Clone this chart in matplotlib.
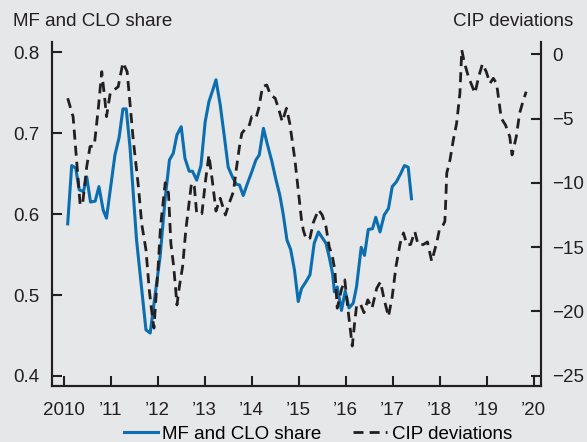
#!/usr/bin/env python3
"""MF and CLO share vs. CIP deviations, 2010-2020 (dual axis line chart)."""

import matplotlib

matplotlib.use("Agg")
import matplotlib.pyplot as plt

# MF and CLO share (left axis), decimal year / share
share_years = [
    2010.085, 2010.17, 2010.255, 2010.33, 2010.42, 2010.49, 2010.57, 2010.67,
    2010.75, 2010.84, 2010.91, 2011.00, 2011.09, 2011.18, 2011.26, 2011.33,
    2011.41, 2011.55, 2011.75, 2011.84, 2011.94, 2012.05, 2012.16, 2012.25,
    2012.33, 2012.41, 2012.50, 2012.58, 2012.67, 2012.74, 2012.83, 2012.92,
    2013.01, 2013.09, 2013.17, 2013.24, 2013.33, 2013.42, 2013.50, 2013.59,
    2013.67, 2013.74, 2013.82, 2013.91, 2014.00, 2014.09, 2014.16, 2014.25,
    2014.33, 2014.43, 2014.51, 2014.60, 2014.67, 2014.75, 2014.83, 2014.91,
    2014.99, 2015.06, 2015.16, 2015.24, 2015.33, 2015.42, 2015.50, 2015.58,
    2015.65, 2015.72, 2015.76, 2015.82, 2015.91, 2015.99, 2016.07, 2016.16,
    2016.23, 2016.33, 2016.40, 2016.48, 2016.57, 2016.64, 2016.73, 2016.82,
    2016.91, 2016.99, 2017.08, 2017.17, 2017.25, 2017.33, 2017.40,
]
share_values = [
    0.588, 0.660, 0.657, 0.630, 0.628, 0.646, 0.615, 0.616,
    0.634, 0.605, 0.595, 0.634, 0.673, 0.695, 0.730, 0.730,
    0.683, 0.568, 0.457, 0.453, 0.498, 0.547, 0.620, 0.667,
    0.675, 0.698, 0.708, 0.669, 0.653, 0.653, 0.642, 0.660,
    0.714, 0.739, 0.753, 0.766, 0.735, 0.695, 0.658, 0.646,
    0.637, 0.636, 0.623, 0.638, 0.652, 0.667, 0.673, 0.706,
    0.687, 0.665, 0.644, 0.623, 0.600, 0.568, 0.556, 0.531,
    0.492, 0.508, 0.517, 0.525, 0.564, 0.578, 0.571, 0.564,
    0.547, 0.527, 0.504, 0.510, 0.481, 0.505, 0.484, 0.490,
    0.510, 0.559, 0.549, 0.581, 0.582, 0.596, 0.578, 0.599,
    0.607, 0.634, 0.640, 0.650, 0.660, 0.658, 0.619,
]

# CIP deviations (right axis), decimal year / basis points
cip_years = [
    2010.085, 2010.20, 2010.35, 2010.40, 2010.49, 2010.56, 2010.65, 2010.74,
    2010.81, 2010.88, 2010.91, 2010.99, 2011.07, 2011.16, 2011.26, 2011.35,
    2011.48, 2011.59, 2011.66, 2011.75, 2011.82, 2011.87, 2011.92, 2011.96,
    2012.01, 2012.06, 2012.16, 2012.23, 2012.28, 2012.34, 2012.41, 2012.46,
    2012.53, 2012.60, 2012.72, 2012.78, 2012.83, 2012.94, 2013.02, 2013.09,
    2013.16, 2013.24, 2013.33, 2013.44, 2013.52, 2013.61, 2013.68, 2013.74,
    2013.79, 2013.86, 2013.94, 2014.00, 2014.09, 2014.15, 2014.23, 2014.32,
    2014.40, 2014.50, 2014.58, 2014.65, 2014.74, 2014.81, 2014.92, 2014.99,
    2015.06, 2015.10, 2015.16, 2015.24, 2015.31, 2015.42, 2015.50, 2015.58,
    2015.65, 2015.71, 2015.77, 2015.82, 2015.91, 2015.98, 2016.05, 2016.14,
    2016.19, 2016.23, 2016.31, 2016.39, 2016.47, 2016.56, 2016.66, 2016.74,
    2016.82, 2016.91, 2016.99, 2017.07, 2017.16, 2017.23, 2017.30, 2017.38,
    2017.47, 2017.54, 2017.65, 2017.74, 2017.83, 2017.94, 2017.99, 2018.07,
    2018.11, 2018.13, 2018.15, 2018.22, 2018.29, 2018.36, 2018.43, 2018.47,
    2018.52, 2018.61, 2018.75, 2018.83, 2018.91, 2018.99, 2019.07, 2019.14,
    2019.21, 2019.31, 2019.40, 2019.49, 2019.54, 2019.63, 2019.70, 2019.77,
    2019.84,
]
cip_values = [
    -3.42, -4.85, -11.7, -11.7, -8.74, -7.18, -7.13, -4.07,
    -1.35, -3.68, -4.85, -3.03, -2.78, -2.52, -0.65, -1.35,
    -6.66, -10.3, -13.2, -15.2, -18.3, -19.9, -21.3, -19.1,
    -16.5, -13.4, -10.0, -10.8, -14.7, -16.5, -19.5, -18.1,
    -16.5, -13.6, -10.0, -10.3, -12.4, -12.4, -9.77, -7.83,
    -9.77, -12.2, -11.2, -12.5, -11.6, -10.7, -8.74, -7.18,
    -6.14, -5.83, -5.63, -4.85, -4.98, -4.20, -2.52, -2.39,
    -3.16, -3.42, -4.33, -5.24, -4.20, -5.37, -8.22, -10.55,
    -12.9, -13.7, -14.4, -14.3, -13.1, -12.1, -12.5, -13.4,
    -15.0, -15.6, -16.8, -19.75, -18.3, -17.55, -19.9, -22.7,
    -20.9, -19.6, -19.4, -20.1, -19.1, -19.75, -18.2, -17.7,
    -19.1, -20.4, -18.85, -16.5, -14.7, -13.9, -14.8, -14.8,
    -13.8, -14.8, -14.8, -14.6, -16.1, -14.6, -13.7, -13.3,
    -13.0, -11.3, -9.25, -8.2, -6.66, -5.37, -3.03, 0.33,
    -0.57, -1.74, -3.03, -1.74, -0.75, -1.35, -2.26, -1.87,
    -2.26, -4.98, -5.5, -6.4, -7.83, -6.4, -4.59, -3.69,
    -2.91,
]

year_ticks = list(range(2010, 2021))
year_labels = ["2010"] + ["\u2019%02d" % (y % 100) for y in year_ticks[1:]]
share_ticks = [0.4, 0.5, 0.6, 0.7, 0.8]
cip_ticks = [-25, -20, -15, -10, -5, 0]

BG = "#e6e7e9"
BLUE = "#0a6eb0"
INK = "#231f20"

plt.rcParams["font.family"] = ["Liberation Sans", "DejaVu Sans"]
plt.rcParams["font.size"] = 13.5

fig = plt.figure(figsize=(5.87, 4.42), dpi=100, facecolor=BG)
ax = fig.add_axes([0.0893, 0.1274, 0.8323, 0.7776])
ax.set_facecolor(BG)
ax2 = ax.twinx()

line1, = ax.plot(share_years, share_values, color=BLUE, lw=2.2,
                 label="MF and CLO share")
line2, = ax2.plot(cip_years, cip_values, color=INK, lw=2.0,
                  dashes=(3.6, 2.2), label="CIP deviations")

ax.set_xlim(2009.76, 2020.155)
ax.set_ylim(0.388, 0.8127)
ax2.set_ylim(-25.78, 0.956)

ax.set_xticks(year_ticks)
ax.set_xticklabels(year_labels)
ax.set_yticks(share_ticks)
ax.set_yticklabels([f"{v:.1f}" for v in share_ticks])
ax2.set_yticks(cip_ticks)
ax2.set_yticklabels([str(v).replace("-", "\u2212") for v in cip_ticks])

for a in (ax, ax2):
    a.spines["top"].set_visible(False)
    for side in ("left", "right", "bottom"):
        a.spines[side].set_color(INK)
        a.spines[side].set_linewidth(1.5)
ax.tick_params(axis="both", direction="in", length=7.5, width=1.5,
               color=INK, labelcolor=INK)
ax.tick_params(axis="y", pad=9.5)
ax.tick_params(axis="x", pad=12)
ax2.tick_params(axis="y", direction="in", length=7.5, width=1.5,
                color=INK, labelcolor=INK, pad=8)

fig.text(13 / 587, 1 - 22 / 442, "MF and CLO share", ha="left", va="center",
         color=INK)
fig.text(573 / 587, 1 - 22 / 442, "CIP deviations", ha="right", va="center",
         color=INK)

fig.legend(handles=[line1, line2], loc="center",
           bbox_to_anchor=(318 / 587, 1 - 434 / 442), ncol=2, frameon=False,
           handlelength=1.8, handletextpad=0.25, columnspacing=1.7,
           borderaxespad=0, borderpad=0)

fig.savefig("out.png", dpi=100, facecolor=BG)
